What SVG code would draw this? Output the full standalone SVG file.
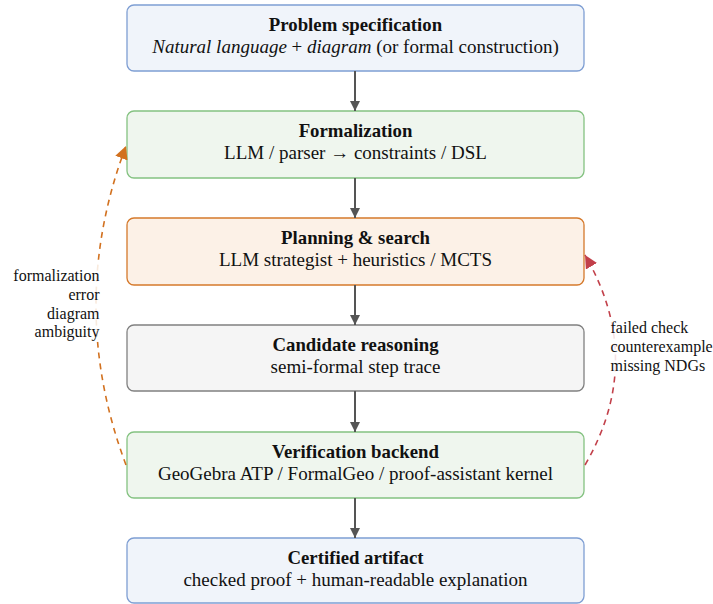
<svg xmlns="http://www.w3.org/2000/svg" width="713" height="604" viewBox="0 0 713 604">
  <defs>
    <marker id="arr" viewBox="0 0 10 10" refX="10" refY="5" markerWidth="10" markerHeight="12" markerUnits="userSpaceOnUse" orient="auto">
      <path d="M0,0 L10,5 L0,10 z" fill="#555555"/>
    </marker>
    <marker id="arrO" viewBox="0 0 10 10" refX="10" refY="5" markerWidth="13" markerHeight="13" markerUnits="userSpaceOnUse" orient="auto">
      <path d="M0,0 L10,5 L0,10 z" fill="#D2711F"/>
    </marker>
    <marker id="arrR" viewBox="0 0 10 10" refX="10" refY="5" markerWidth="13" markerHeight="13" markerUnits="userSpaceOnUse" orient="auto">
      <path d="M0,0 L10,5 L0,10 z" fill="#C2404A"/>
    </marker>
  </defs>
  <rect width="713" height="604" fill="#ffffff"/>

  <!-- pipeline nodes -->
  <g id="problem" font-family="Tinos, Liberation Serif, Times New Roman, serif" text-anchor="middle" fill="#111111">
    <rect x="127" y="5" width="457" height="66" rx="7" fill="#F0F4FA" stroke="#7E9ED3" stroke-width="1.3"/>
    <text x="355.5" y="31" font-size="18.8" font-weight="bold">Problem specification</text>
    <text x="355.5" y="53" font-size="19"><tspan font-style="italic">Natural language</tspan> + <tspan font-style="italic">diagram</tspan> (or formal construction)</text>
  </g>

  <g id="formalization" font-family="Tinos, Liberation Serif, Times New Roman, serif" text-anchor="middle" fill="#111111">
    <rect x="127" y="111" width="457" height="67" rx="7" fill="#EFF6EE" stroke="#84C281" stroke-width="1.3"/>
    <text x="355.5" y="137" font-size="18.8" font-weight="bold">Formalization</text>
    <text x="355.5" y="159" font-size="19">LLM / parser → constraints / DSL</text>
  </g>

  <g id="planning" font-family="Tinos, Liberation Serif, Times New Roman, serif" text-anchor="middle" fill="#111111">
    <rect x="127" y="218" width="457" height="67" rx="7" fill="#FCF1E7" stroke="#D5792B" stroke-width="1.3"/>
    <text x="355.5" y="244" font-size="18.8" font-weight="bold">Planning &amp; search</text>
    <text x="355.5" y="266" font-size="19">LLM strategist + heuristics / MCTS</text>
  </g>

  <g id="candidate" font-family="Tinos, Liberation Serif, Times New Roman, serif" text-anchor="middle" fill="#111111">
    <rect x="127" y="325" width="457" height="66" rx="7" fill="#F5F5F5" stroke="#808080" stroke-width="1.3"/>
    <text x="355.5" y="351" font-size="18.8" font-weight="bold">Candidate reasoning</text>
    <text x="355.5" y="373" font-size="19">semi-formal step trace</text>
  </g>

  <g id="verification" font-family="Tinos, Liberation Serif, Times New Roman, serif" text-anchor="middle" fill="#111111">
    <rect x="127" y="432" width="457" height="66" rx="7" fill="#EFF6EE" stroke="#84C281" stroke-width="1.3"/>
    <text x="355.5" y="458" font-size="18.8" font-weight="bold">Verification backend</text>
    <text x="355.5" y="480" font-size="19">GeoGebra ATP / FormalGeo / proof-assistant kernel</text>
  </g>

  <g id="certified" font-family="Tinos, Liberation Serif, Times New Roman, serif" text-anchor="middle" fill="#111111">
    <rect x="127" y="538" width="457" height="65" rx="7" fill="#F0F4FA" stroke="#7E9ED3" stroke-width="1.3"/>
    <text x="355.5" y="564" font-size="18.8" font-weight="bold">Certified artifact</text>
    <text x="355.5" y="586" font-size="19">checked proof + human-readable explanation</text>
  </g>

  <!-- connectors: main flow and dashed feedback loops -->
  <g id="connectors">
    <g stroke="#555555" stroke-width="2" fill="none">
      <line x1="355" y1="71" x2="355" y2="111" marker-end="url(#arr)"/>
      <line x1="355" y1="178" x2="355" y2="218" marker-end="url(#arr)"/>
      <line x1="355" y1="285" x2="355" y2="325" marker-end="url(#arr)"/>
      <line x1="355" y1="391" x2="355" y2="432" marker-end="url(#arr)"/>
      <line x1="355" y1="498" x2="355" y2="538" marker-end="url(#arr)"/>
    </g>
    <g fill="none" stroke-width="1.6" stroke-dasharray="6 5">
      <path d="M126,465 Q66,305 126,146" stroke="#D2711F" marker-end="url(#arrO)"/>
      <path d="M585,465 Q646,360 585,255" stroke="#C2404A" marker-end="url(#arrR)"/>
    </g>
    <!-- feedback labels on a faint white backing -->
    <g id="label-left" font-family="Tinos, Liberation Serif, Times New Roman, serif" font-size="16" fill="#111111" text-anchor="end">
      <rect x="8" y="264" width="95" height="78" fill="#ffffff" opacity="0.85"/>
      <text x="99.5" y="281">formalization</text>
      <text x="99.5" y="300">error</text>
      <text x="99.5" y="318.5">diagram</text>
      <text x="99.5" y="337">ambiguity</text>
    </g>
    <g id="label-right" font-family="Tinos, Liberation Serif, Times New Roman, serif" font-size="16" fill="#111111">
      <rect x="607" y="317" width="106" height="59" fill="#ffffff" opacity="0.85"/>
      <text x="610.5" y="333">failed check</text>
      <text x="610.5" y="352">counterexample</text>
      <text x="610.5" y="371">missing NDGs</text>
    </g>
  </g>
</svg>
